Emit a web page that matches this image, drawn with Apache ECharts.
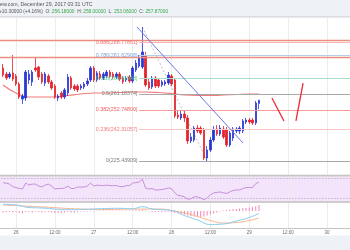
<!DOCTYPE html>
<html><head><meta charset="utf-8">
<script src="https://cdn.jsdelivr.net/npm/echarts@6/dist/echarts.min.js"></script>
<style>html,body{margin:0;padding:0;background:#fff}#c{width:350px;height:250px}</style>
</head><body><div id="c"></div>
<script>
// hour offsets from Dec 26 00:00 (one candle per hour)
const hours = [-4,-3,-2,-1,0,1,2,3,4,5,6,7,8,9,10,11,12,13,14,15,16,17,18,19,20,21,22,23,24,25,26,27,28,29,30,31,32,33,34,35,36,37,38,39,40,41,42,43,44,45,46,47,48,49,50,51,52,53,54,55,56,57,58,59,60,61,62,63,64,65,66,67,68,69,70,71,72,73,74,75];
const openP = [275.07,271.86,270.26,272.40,270.80,266.53,258.52,259.06,268.66,267.60,275.07,275.60,271.86,267.06,270.80,267.60,265.46,259.06,261.73,259.59,261.73,269.73,265.46,265.46,264.39,264.93,266.53,268.66,275.07,268.66,271.86,269.73,270.80,272.93,271.86,270.26,271.86,269.73,268.66,270.26,268.13,274.00,276.13,275.60,281.47,267.60,264.93,269.73,268.66,266.00,266.53,267.06,270.80,268.66,249.99,248.39,250.52,248.39,236.11,236.65,243.05,243.05,241.98,227.04,231.31,236.65,242.52,239.85,242.52,241.98,233.98,237.71,241.45,241.45,241.45,246.25,247.32,247.32,245.72,256.18];
const closeP = [271.33,269.73,271.86,269.20,266.53,259.59,260.12,272.93,271.86,272.93,274.00,270.26,267.60,271.86,267.60,264.39,259.59,260.12,259.59,263.33,270.26,264.39,263.86,263.33,265.46,266.53,268.13,275.07,268.66,272.40,269.73,271.86,272.93,270.80,270.26,271.86,269.20,267.60,269.73,268.13,275.07,277.73,280.40,283.60,266.00,264.39,269.73,265.46,265.46,267.60,267.60,271.33,266.53,249.45,248.92,250.52,248.39,236.11,238.25,243.05,241.45,240.38,227.04,231.31,236.65,241.98,239.85,243.05,238.25,233.98,240.38,242.52,242.52,243.05,246.79,247.32,246.25,245.72,256.39,257.87];
const lowP = [270.26,268.66,269.20,268.13,265.46,258.52,255.86,257.46,266.53,265.46,272.93,268.66,266.53,265.46,266.53,263.33,258.52,257.46,258.52,258.52,260.12,263.33,262.79,262.26,263.33,263.86,265.46,267.60,267.60,267.60,268.66,268.66,269.73,269.73,269.20,269.20,268.13,266.53,267.60,267.06,267.06,272.93,275.07,274.53,264.93,263.33,263.86,264.39,264.39,264.93,265.46,266.00,265.46,248.39,247.85,247.32,246.25,234.51,235.05,235.58,240.38,239.31,225.97,225.44,230.24,235.58,238.78,238.78,237.18,232.91,232.91,236.11,240.38,239.85,240.38,245.19,245.19,244.65,244.65,253.06];
const highP = [277.20,272.93,272.93,282.00,271.86,267.60,261.19,274.00,274.00,274.00,280.40,276.13,272.93,272.93,271.86,268.66,266.53,261.19,262.79,264.39,271.86,270.80,266.53,266.53,266.53,267.60,269.73,276.13,276.13,273.46,273.46,272.93,274.00,274.00,272.93,272.93,272.93,270.80,270.80,271.33,276.13,279.33,282.00,296.94,283.60,269.73,270.80,270.80,269.73,268.66,268.66,272.93,271.86,269.73,252.65,252.12,252.65,249.99,240.38,244.12,244.65,244.12,243.05,233.45,238.25,244.12,244.65,244.65,244.12,243.58,241.45,243.58,243.58,244.12,247.85,248.39,248.39,248.39,257.46,258.00];

const maHours = [-4,0,4,8,12,16,20,24,28,32,36,40,44,48,52,56,60,64,68,72,75];
const maValues = [266.00,261.73,259.59,259.59,259.59,260.39,261.19,261.73,261.73,262.00,262.26,262.26,262.00,261.46,260.66,260.39,260.39,260.66,260.92,261.19,261.19];

const fibRatios = ['0.886','0.786','0.618','0.5','0.382','0.236','0'];
const fibPrices = [288.77861,281.62968,269.61948,261.18374,252.74800,242.31057,225.43909];
const resistancePrices = [290.0, 280.93];

const trendHours = [37.35, 70.06];
const trendPrices = [296.94, 235.05];
const fibDiagHours = [39, 59];
const fibDiagPrices = [296.94, 225.44];
const forecastA_Hours = [79.0, 82.7];
const forecastA_Prices = [259.06, 246.79];
const forecastB_Hours = [86.4, 88.6];
const forecastB_Prices = [246.79, 267.06];

const rsiValues = [61.6,61,59,53.6,52,50,49,61,57,59,59,55,53,57,59,55,49,50,50,51,55,50,50,53,53,53,55,61,55,57,56,56,57,56,56,56,54,53.6,56,56,61,62,63,69,51,49,50,47,47,48,49,51,50,41,36,35,33,28,29,33,33,31,27,31,37,41,42,43,41,40,43,46,47,47,50,52,52,52,60,63];

const macdHours = [-4,0,4,8,12,16,20,24,28,32,36,39,42,44,48,52,56,60,64,68,72,75];
const macdValues = [6.7,6,3.5,3,2,1.3,1.5,2,2.5,2.7,2.2,4.3,2,1.5,0.5,-4.5,-9,-13.5,-13,-10,-6.5,-2.3];
const signalHours = [-4,0,4,8,12,16,20,24,28,32,36,40,44,48,52,56,60,64,68,72,75];
const signalValues = [6,5.5,4.7,4,3.3,2.5,2,1.7,1.5,1.7,2,2,2,0.5,-2,-5.5,-9.5,-12,-11.5,-9.5,-7];
const histValues = [-1.5,-1,-1,-1.5,-1,-2,-2.5,-1,-1,-1.5,-0.5,-1,-1.5,-1,-1,-1.5,-2,-2,-2,-1.5,-1,-1.5,-1.5,-1,-0.5,-0.5,-0.5,0.5,-0.5,0.5,0.5,0.5,0.5,0.5,0.5,0.5,0.5,0.5,0.5,0.5,0.5,1,1,1.5,0.5,-0.5,-1,-1,-1,-1,-1,-0.5,-1,-2,-2.5,-3,-3.5,-4.5,-5,-5.5,-6,-6,-5.5,-4.5,-3.5,-2.5,-1.5,-0.5,0.5,1,1.5,2,2,2.5,3,3,3.5,4,5,6];

const tickLabels = ['12:00','26','12:00','27','12:00','28','12:00','29','12:00','30','12:00'];

const fibLineColors = ['#f6b4b4','#b2cdf0','#a6e2c8','#a8a8a8','#f49a9a','#f8c6c6','#a8a8a8'];
const fibTextColors = ['#f07474','#7ea8de','#52c08e','#7a7a7a','#f05c5c','#f07a7a','#7a7a7a'];

const FONT = '"Liberation Sans", Arial, sans-serif';
const UP = '#2a37d4', DOWN = '#e2242c';

const candleData = hours.map((h,i)=>[h, openP[i], closeP[i], lowP[i], highP[i]]);
const pair = (hs, ps) => hs.map((h,i)=>[h, ps[i]]);

const gridL = -22.88, gridR = -15.92;
const xBase = {type:'value', min:-12, max:108, interval:12,
  axisLine:{show:false}, axisTick:{show:false}, axisLabel:{show:false},
  splitLine:{show:true, lineStyle:{color:'#ececec', width:1}}};
const gridBase = {left:gridL, right:gridR, containLabel:false, outerBoundsMode:'none'};

const chart = echarts.init(document.getElementById('c'), null, {renderer:'canvas'});
chart.setOption({
  animation:false,
  backgroundColor:'#ffffff',
  grid:[
    Object.assign({top:18, height:157}, gridBase),
    Object.assign({top:176.5, height:24.5, show:true, backgroundColor:'#f3e4fb', borderWidth:0}, gridBase),
    Object.assign({top:203, height:25}, gridBase)
  ],
  xAxis:[
    Object.assign({gridIndex:0}, xBase),
    Object.assign({gridIndex:1}, xBase),
    Object.assign({gridIndex:2}, xBase, {axisLabel:{show:true, fontSize:4.5, color:'#6a6a6a', margin:2.5, fontFamily:FONT,
      formatter:v=>tickLabels[Math.round((v+12)/12)] || ''}})
  ],
  yAxis:[
    {gridIndex:0, type:'value', min:217.97, max:301.75, show:false, splitLine:{show:false}},
    {gridIndex:1, type:'value', min:24.5, max:74.5, show:false, splitLine:{show:false}},
    {gridIndex:2, type:'value', min:-17, max:8, show:false, splitLine:{show:false}}
  ],
  graphic:[
    {type:'rect', z:-10, shape:{x:0,y:0,width:350,height:16.5}, style:{fill:'#eef2f6'}},
    {type:'line', z:100, shape:{x1:0,y1:16.8,x2:350,y2:16.8}, style:{stroke:'#cfd3d8', lineWidth:1.2}},
    {type:'text', z:100, x:0, y:4.5, style:{text:'ew.com, December 29, 2017 03:31 UTC', font:'5.2px '+FONT, fill:'#555', verticalAlign:'middle'}},
    {type:'text', z:100, x:-1, y:11.5, style:{text:'{k|+10.30000 (+4.16%)  O:}{v| 256.18000}{k|  H:}{v| 258.00000}{k|  L:}{v| 253.06000}{k|  C:}{v| 257.87000}',
      font:'4.8px '+FONT, verticalAlign:'middle',
      rich:{k:{fill:'#555', font:'4.8px '+FONT}, v:{fill:'#3aa64a', font:'4.8px '+FONT}}}},
    {type:'line', z:100, shape:{x1:0,y1:175.6,x2:350,y2:175.6}, style:{stroke:'#c4c4c4', lineWidth:1.6}},
    {type:'line', z:100, shape:{x1:0,y1:201.9,x2:350,y2:201.9}, style:{stroke:'#cdcdcd', lineWidth:2}},
    {type:'line', z:100, shape:{x1:0,y1:228.5,x2:350,y2:228.5}, style:{stroke:'#c4c4c4', lineWidth:1.2}},
    {type:'rect', z:-10, shape:{x:0,y:235.5,width:350,height:15}, style:{fill:'#eef2f6'}}
  ],
  series:[
    {type:'line', xAxisIndex:0, yAxisIndex:0, data:pair(maHours, maValues), smooth:true, showSymbol:false, silent:true,
      lineStyle:{color:'#f27b7b', width:1.2}, z:3,
      markLine:{silent:true, symbol:['none','none'], animation:false,
        data: resistancePrices.map(p=>[{coord:[-12,p], lineStyle:{color:'#ec8e80', width:1.4, type:'solid'}, label:{show:false}},{coord:[108,p]}])
          .concat(fibRatios.map((r,i)=>[{coord:[38, fibPrices[i]], lineStyle:{color:fibLineColors[i], width:1, type:'solid'},
            label:{show:true, position:'start', distance:1.5, formatter:r+'('+fibPrices[i].toFixed(5)+')', color:fibTextColors[i], fontSize:5.3, fontFamily:FONT}},
            {coord:[108, fibPrices[i]]}]))
      }},
    {type:'candlestick', xAxisIndex:0, yAxisIndex:0, data:candleData, barWidth:2, silent:true, z:4,
      encode:{x:0, y:[1,2,3,4]},
      itemStyle:{color:UP, color0:DOWN, borderColor:UP, borderColor0:DOWN, borderWidth:0.8}},
    {type:'line', xAxisIndex:0, yAxisIndex:0, data:pair(fibDiagHours, fibDiagPrices), showSymbol:false, silent:true, z:3,
      lineStyle:{color:'#b0b0b0', width:0.8, type:[2,2]}},
    {type:'line', xAxisIndex:0, yAxisIndex:0, data:pair(trendHours, trendPrices), showSymbol:false, silent:true, z:5,
      lineStyle:{color:'#6d76e6', width:1}},
    {type:'line', xAxisIndex:0, yAxisIndex:0, data:pair(forecastA_Hours, forecastA_Prices), showSymbol:false, silent:true, z:5,
      lineStyle:{color:'#ee2a3a', width:1.3}},
    {type:'line', xAxisIndex:0, yAxisIndex:0, data:pair(forecastB_Hours, forecastB_Prices), showSymbol:false, silent:true, z:5,
      lineStyle:{color:'#ee2a3a', width:1.3}},
    {type:'line', xAxisIndex:1, yAxisIndex:1, data:pair(hours, rsiValues), showSymbol:false, silent:true,
      lineStyle:{color:'#c68fda', width:1},
      markLine:{silent:true, symbol:['none','none'], label:{show:false},
        lineStyle:{color:'#b9a6c6', width:0.8, type:[1.5,1.5]},
        data:[{yAxis:70},{yAxis:30}]}},
    {type:'bar', xAxisIndex:2, yAxisIndex:2, data:pair(hours, histValues), barWidth:1, silent:true,
      itemStyle:{color:'#f584b8'}},
    {type:'line', xAxisIndex:2, yAxisIndex:2, data:pair(signalHours, signalValues), smooth:true, showSymbol:false, silent:true,
      lineStyle:{color:'#f8b489', width:1}},
    {type:'line', xAxisIndex:2, yAxisIndex:2, data:pair(macdHours, macdValues), smooth:true, showSymbol:false, silent:true,
      lineStyle:{color:'#86cbf3', width:1}}
  ]
});
</script></body></html>
